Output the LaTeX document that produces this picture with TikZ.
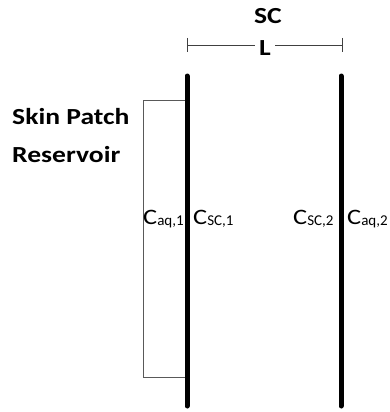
\documentclass[tikz,border=0pt]{standalone}
\usepackage{fontspec}
\setmainfont{Carlito}
\newfontfamily\widefont[FakeStretch=1.2]{Carlito}

\newcommand{\conc}[1]{{\widefont C}{\fontsize{15}{16}\selectfont\raisebox{-1pt}{#1}}}

\tikzset{
  bar/.style={line width=5pt,line cap=round},
  lab/.style={font=\fontsize{22}{24}\selectfont,inner sep=0pt},
  head/.style={font=\widefont\bfseries\fontsize{23}{38}\selectfont,inner sep=0pt},
  dim/.style={gray!50!black,line width=0.8pt}
}

\begin{document}
\begin{tikzpicture}[x=1pt,y=-1pt]
\useasboundingbox (0,0) rectangle (389,412);
% reservoir box
\draw[gray!70!black,line width=0.8pt] (187,100)--(143,100)--(143,377)--(187,377);
% membrane faces
\draw[bar] (187,76)--(187,406);
\draw[bar] (341,76)--(341,406);
% thickness
\node[head] (sc) at (268,16) {SC};
\node[head] (len) at (265,48) {L};
\coordinate (l1) at (187,45);
\coordinate (l2) at (342,45);
\draw[dim] (l1)++(0,-7)--++(0,14);
\draw[dim] (l2)++(0,-7)--++(0,14);
\draw[dim] (l1)--([xshift=-4pt]l1-|len.west);
\draw[dim] (l2)--([xshift=4pt]l2-|len.east);
\node[head,align=left,anchor=base west] (res) at (12,162) {Skin Patch\\Reservoir};
% concentrations
\node[lab,anchor=base west] (caq1) at (143,224) {\conc{aq,1}};
\node[lab,anchor=base west] (csc1) at (193,224) {\conc{SC,1}};
\node[lab,anchor=base west] (csc2) at (293,224) {\conc{SC,2}};
\node[lab,anchor=base west] (caq2) at (347,224) {\conc{aq,2}};
\end{tikzpicture}
\end{document}
